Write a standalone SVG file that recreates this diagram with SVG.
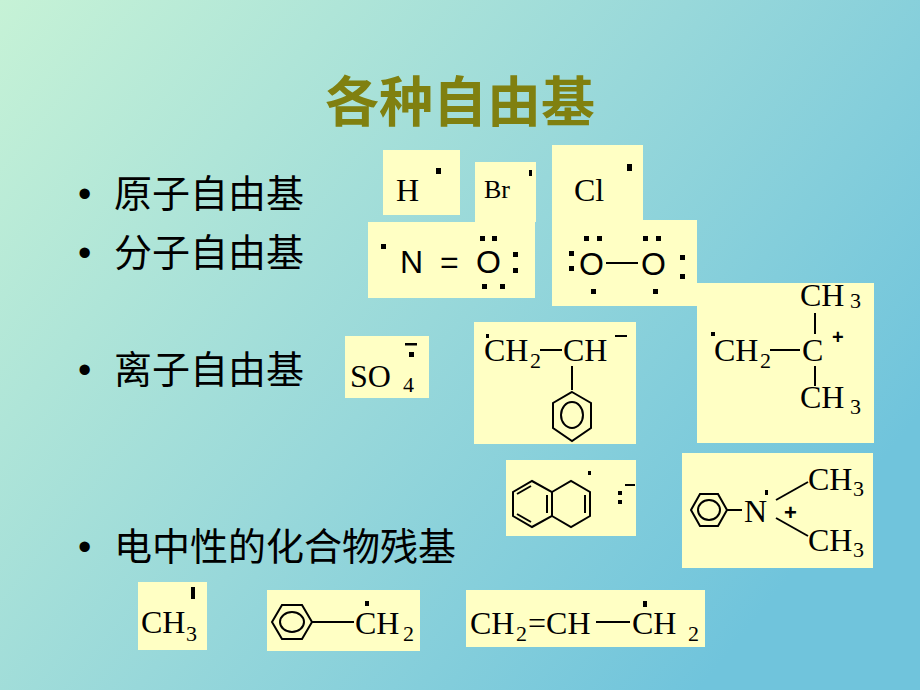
<svg xmlns="http://www.w3.org/2000/svg" width="920" height="690" viewBox="0 0 920 690">
<defs>
<linearGradient id="bg" x1="0" y1="0" x2="1" y2="0.6">
<stop offset="0" stop-color="#c6f2d6"/>
<stop offset="0.55" stop-color="#98d8da"/>
<stop offset="1" stop-color="#70c4dc"/>
</linearGradient>
<style>
.box{fill:#ffffc4}
.cn{font-family:"Liberation Sans","Noto Sans CJK SC",sans-serif;fill:#000}
.ch{font-family:"Liberation Serif",serif;fill:#000;font-size:32px}
.sb{font-family:"Liberation Serif",serif;fill:#000;font-size:22px}
.sn{font-family:"Liberation Sans",sans-serif;fill:#000;font-size:32px}
.ln{stroke:#000;stroke-width:2;fill:none}
.dot{fill:#000}
</style>
</defs>
<rect width="920" height="690" fill="url(#bg)"/>
<text x="460" y="122" text-anchor="middle" class="cn" font-size="54" font-weight="bold" style="fill:#808010">各种自由基</text>
<g id="labels" class="cn" style="font-size:38px">
<text x="78" y="207">•</text><text x="114" y="207">原子自由基</text>
<text x="78" y="266">•</text><text x="114" y="266">分子自由基</text>
<text x="78" y="383">•</text><text x="114" y="383">离子自由基</text>
<text x="78" y="560">•</text><text x="114" y="560">电中性的化合物残基</text>
</g>
<g id="H"><rect class="box" x="383" y="150" width="77" height="65"/><text class="ch" x="396" y="201">H</text><rect class="dot" x="436" y="168" width="5" height="6"/></g>
<g id="Br"><rect class="box" x="475" y="162" width="61" height="60"/><text class="ch" x="484" y="198" style="font-size:26px">Br</text><rect class="dot" x="529" y="170" width="3" height="6"/></g>
<g id="Cl"><rect class="box" x="552" y="145" width="91" height="75"/><text class="ch" x="574" y="201">Cl</text><rect class="dot" x="627" y="164" width="5" height="7"/></g>
<g id="NO"><rect class="box" x="368" y="222" width="167" height="76"/>
<rect class="dot" x="381" y="244" width="5" height="5"/>
<text class="sn" x="400" y="273">N</text><text class="sn" x="440" y="273">=</text><text class="sn" x="476" y="273">O</text>
<rect class="dot" x="480" y="236" width="5" height="5"/><rect class="dot" x="492" y="236" width="5" height="5"/>
<rect class="dot" x="513" y="252" width="5" height="5"/><rect class="dot" x="513" y="268" width="5" height="5"/>
<rect class="dot" x="482" y="284" width="5" height="5"/><rect class="dot" x="500" y="284" width="5" height="5"/></g>
<g id="OO"><rect class="box" x="552" y="220" width="145" height="86"/>
<rect class="dot" x="569" y="251" width="5" height="5"/><rect class="dot" x="569" y="266" width="5" height="5"/>
<text class="sn" x="579" y="275">O</text><line class="ln" x1="606" y1="263" x2="638" y2="263"/><text class="sn" x="641" y="275">O</text>
<rect class="dot" x="584" y="236" width="5" height="5"/><rect class="dot" x="597" y="236" width="5" height="5"/>
<rect class="dot" x="643" y="236" width="5" height="5"/><rect class="dot" x="656" y="236" width="5" height="5"/>
<rect class="dot" x="680" y="255" width="5" height="5"/><rect class="dot" x="680" y="274" width="5" height="5"/>
<rect class="dot" x="591" y="289" width="5" height="5"/><rect class="dot" x="653" y="289" width="5" height="5"/></g>
<g id="SO4"><rect class="box" x="345" y="336" width="84" height="62"/>
<text class="ch" x="350" y="387">SO</text><text class="sb" x="403" y="392">4</text>
<rect x="405" y="343" width="12" height="2.5" class="dot"/><rect class="dot" x="409" y="352" width="5" height="5"/></g>
<g id="CH2CH"><rect class="box" x="474" y="322" width="162" height="122"/>
<rect class="dot" x="486" y="334" width="3" height="4"/>
<text class="ch" x="484" y="361">CH</text><text class="sb" x="530" y="368">2</text>
<line class="ln" x1="540" y1="350" x2="562" y2="350"/>
<text class="ch" x="563" y="361">CH</text><line class="ln" x1="615" y1="336" x2="627" y2="336"/>
<line class="ln" x1="572" y1="366" x2="572" y2="390"/>
<polygon class="ln" points="572,392 591,403 591,428 572,441 553,428 553,403"/>
<ellipse class="ln" cx="572" cy="415" rx="11" ry="13"/></g>
<g id="tBu"><rect class="box" x="697" y="283" width="177" height="160"/>
<rect class="dot" x="711" y="332" width="4" height="4"/>
<text class="ch" x="714" y="361">CH</text><text class="sb" x="760" y="368">2</text>
<line class="ln" x1="770" y1="350" x2="800" y2="350"/>
<text class="ch" x="802" y="361">C</text><text x="832" y="344" font-family="Liberation Sans,sans-serif" font-size="20" font-weight="bold">+</text>
<text class="ch" x="800" y="306">CH</text><text class="sb" x="850" y="308">3</text>
<line class="ln" x1="815" y1="313" x2="815" y2="334"/><line class="ln" x1="815" y1="366" x2="815" y2="386"/>
<text class="ch" x="800" y="408">CH</text><text class="sb" x="850" y="414">3</text></g>
<g id="naph"><rect class="box" x="506" y="460" width="130" height="76"/>
<polygon class="ln" points="532,481 552,492 552,516 532,527 513,516 513,492"/>
<polyline class="ln" points="552,492 571,481 590,492 590,516 571,527 552,516"/>
<line class="ln" x1="547" y1="495" x2="547" y2="513"/><line class="ln" x1="517" y1="494" x2="531" y2="486"/><line class="ln" x1="517" y1="514" x2="531" y2="522"/>
<line class="ln" x1="585" y1="495" x2="585" y2="513"/>
<rect class="dot" x="588" y="471" width="3" height="4"/>
<rect class="dot" x="618" y="491" width="4" height="4"/><rect class="dot" x="618" y="500" width="4" height="4"/>
<line class="ln" x1="625" y1="485" x2="635" y2="485"/></g>
<g id="PhN"><rect class="box" x="682" y="453" width="191" height="115"/>
<polygon class="ln" points="691,510 700,494 718,494 727,510 718,526 700,526"/>
<ellipse class="ln" cx="709" cy="510" rx="11" ry="10"/>
<line class="ln" x1="727" y1="510" x2="742" y2="510"/>
<rect class="dot" x="765" y="490" width="3" height="5"/>
<text class="ch" x="744" y="522">N</text><text x="784" y="520" font-family="Liberation Sans,sans-serif" font-size="22" font-weight="bold">+</text>
<line class="ln" x1="776" y1="500" x2="808" y2="482"/><line class="ln" x1="776" y1="518" x2="808" y2="536"/>
<text class="ch" x="808" y="490">CH</text><text class="sb" x="853" y="496">3</text>
<text class="ch" x="808" y="551">CH</text><text class="sb" x="853" y="557">3</text></g>
<g id="CH3"><rect class="box" x="138" y="582" width="69" height="68"/>
<text class="ch" x="141" y="633">CH</text><text class="sb" x="186" y="641">3</text>
<rect class="dot" x="191" y="587" width="4" height="12"/></g>
<g id="PhCH2"><rect class="box" x="267" y="590" width="153" height="61"/>
<polygon class="ln" points="272,622 282,605 302,605 312,622 302,639 282,639"/>
<ellipse class="ln" cx="292" cy="622" rx="12" ry="10"/>
<line class="ln" x1="312" y1="622" x2="354" y2="622"/>
<rect class="dot" x="365" y="601" width="4" height="5"/>
<text class="ch" x="355" y="634">CH</text><text class="sb" x="403" y="641">2</text></g>
<g id="allyl"><rect class="box" x="466" y="590" width="239" height="57"/>
<text class="ch" x="470" y="634">CH</text><text class="sb" x="516" y="641">2</text>
<text class="ch" x="528" y="634">=CH</text><line class="ln" x1="596" y1="622" x2="630" y2="622"/>
<rect class="dot" x="643" y="601" width="4" height="6"/>
<text class="ch" x="632" y="634">CH</text><text class="sb" x="688" y="641">2</text></g>
</svg>
